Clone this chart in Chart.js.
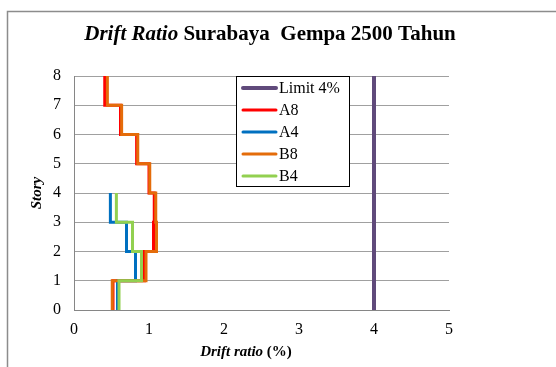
<!DOCTYPE html>
<html>
<head>
<meta charset="utf-8">
<script src="https://cdn.jsdelivr.net/npm/chart.js@4.4.1/dist/chart.umd.min.js"></script>
<style>
  html, body { margin: 0; padding: 0; background: #fff; overflow: hidden; }
</style>
</head>
<body>
<canvas id="chart" width="556" height="367"></canvas>
<script>
// story levels (y) and drift ratio (%) per story, index i = segment from story i to i+1
const stories = [0, 1, 2, 3, 4, 5, 6, 7, 8];
const seriesNames = ["Limit 4%", "A8", "A4", "B8", "B4"];
const limitDrift = [4, 4, 4, 4, 4, 4, 4, 4];
const a8Drift = [0.52, 0.94, 1.06, 1.07, 1.00, 0.835, 0.62, 0.41];
const a4Drift = [0.58, 0.82, 0.70, 0.485];
const b8Drift = [0.51, 0.96, 1.10, 1.09, 1.01, 0.85, 0.635, 0.445];
const b4Drift = [0.60, 0.90, 0.78, 0.565];
const xTicks = [0, 1, 2, 3, 4, 5];
const yTicks = [0, 1, 2, 3, 4, 5, 6, 7, 8];

const colors = ["#604a7b", "#ff0000", "#0070c0", "#e46c0a", "#92d050"];
const widths = [4, 3, 3, 3, 3];
const SERIF = "'Liberation Serif', 'Times New Roman', serif";

// turn per-story drift values into step points
function steps(drift) {
  const pts = [];
  drift.forEach((d, i) => {
    pts.push({ x: d, y: stories[i] });
    pts.push({ x: d, y: stories[i + 1] });
  });
  return pts;
}

const allDrift = [limitDrift, a8Drift, a4Drift, b8Drift, b4Drift];

function drawRuns(ctx, runs, cx, cy) {
  let total = 0;
  runs.forEach((r) => {
    ctx.font = r.f;
    total += ctx.measureText(r.t).width;
  });
  let x = cx - total / 2;
  ctx.textBaseline = "middle";
  ctx.textAlign = "left";
  runs.forEach((r) => {
    ctx.font = r.f;
    ctx.fillText(r.t, x, cy);
    x += ctx.measureText(r.t).width;
  });
}

const decorations = {
  id: "decorations",
  beforeDraw(chart) {
    const ctx = chart.ctx;
    ctx.save();
    // outer frame
    ctx.strokeStyle = "#8c8c8c";
    ctx.lineWidth = 1.5;
    ctx.beginPath();
    ctx.moveTo(7.5, 400);
    ctx.lineTo(7.5, 11.5);
    ctx.lineTo(600, 11.5);
    ctx.stroke();
    ctx.restore();
  },
  afterDraw(chart) {
    const ctx = chart.ctx;
    ctx.save();
    ctx.fillStyle = "#000";
    // title
    drawRuns(ctx, [
      { t: "Drift Ratio", f: "italic bold 21px " + SERIF },
      { t: " Surabaya  Gempa 2500 Tahun", f: "bold 21px " + SERIF },
    ], 270, 35);
    // x title
    drawRuns(ctx, [
      { t: "Drift ratio", f: "italic bold 15px " + SERIF },
      { t: " (%)", f: "bold 15px " + SERIF },
    ], 246, 352);
    // y title
    ctx.save();
    ctx.translate(37, 193);
    ctx.rotate(-Math.PI / 2);
    drawRuns(ctx, [{ t: "Story", f: "italic bold 15px " + SERIF }], 0, 0);
    ctx.restore();

    // legend box
    const bx = 236.5, by = 76.5, bw = 113, bh = 110;
    ctx.fillStyle = "#fff";
    ctx.fillRect(bx, by, bw, bh);
    ctx.strokeStyle = "#000";
    ctx.lineWidth = 1;
    ctx.strokeRect(bx, by, bw, bh);
    seriesNames.forEach((name, i) => {
      const y = 88 + i * 22;
      ctx.strokeStyle = colors[i];
      ctx.lineWidth = widths[i];
      ctx.lineCap = "round";
      ctx.beginPath();
      ctx.moveTo(243, y);
      ctx.lineTo(276, y);
      ctx.stroke();
      ctx.fillStyle = "#000";
      ctx.font = "16px " + SERIF;
      ctx.textAlign = "left";
      ctx.textBaseline = "middle";
      ctx.fillText(name, 279, y + 1);
    });
    ctx.restore();
  },
};

new Chart(document.getElementById("chart"), {
  type: "scatter",
  data: {
    datasets: seriesNames.map((name, i) => ({
      label: name,
      data: steps(allDrift[i]),
      order: -i,
      showLine: true,
      borderColor: colors[i],
      backgroundColor: colors[i],
      borderWidth: widths[i],
      pointRadius: 0,
      pointHoverRadius: 0,
      borderCapStyle: "butt",
      borderJoinStyle: "miter",
    })),
  },
  options: {
    responsive: false,
    animation: false,
    layout: { padding: { left: 0, right: 107, top: 76, bottom: 0 } },
    plugins: {
      legend: { display: false },
      title: { display: false },
      tooltip: { enabled: false },
    },
    scales: {
      x: {
        type: "linear",
        min: 0,
        max: 5,
        afterBuildTicks: (axis) => { axis.ticks = xTicks.map((v) => ({ value: v })); },
        afterFit: (axis) => { axis.height = 57; },
        grid: { display: false, drawTicks: false },
        border: { display: true, color: "#868686", width: 1 },
        ticks: { color: "#000", padding: 10, font: { family: SERIF, size: 16 } },
      },
      y: {
        type: "linear",
        min: 0,
        max: 8,
        afterBuildTicks: (axis) => { axis.ticks = yTicks.map((v) => ({ value: v })); },
        afterFit: (axis) => { axis.width = 74; },
        grid: { color: "#a0a0a0", drawTicks: false },
        border: { display: true, color: "#868686", width: 1 },
        ticks: { color: "#000", padding: 13, font: { family: SERIF, size: 16 } },
      },
    },
  },
  plugins: [decorations],
});
</script>
</body>
</html>
